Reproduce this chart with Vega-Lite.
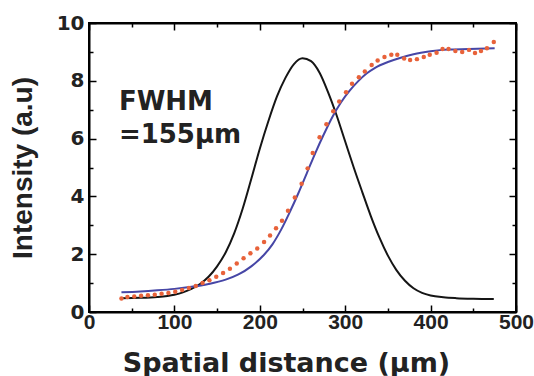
{
  "$schema": "https://vega.github.io/schema/vega-lite/v6.json",
  "width": 427,
  "height": 289,
  "autosize": "none",
  "padding": {"left": 89, "top": 23, "right": 18, "bottom": 64},
  "background": "white",
  "config": {
    "view": {"stroke": "black", "strokeWidth": 2},
    "font": "DejaVu Sans",
    "axis": {"labelFont": "Liberation Sans", "titleFont": "DejaVu Sans", "labelFontWeight": "bold", "titleFontWeight": "bold", "labelColor": "#222", "titleColor": "#222", "domainColor": "black", "domainWidth": 2, "tickColor": "black", "tickWidth": 1.5, "grid": false}
  },
  "datasets": {
    "curves": [
      {"x": 38, "y": 0.48, "series": "gauss"}, {"x": 60, "y": 0.49, "series": "gauss"}, {"x": 80, "y": 0.52, "series": "gauss"}, {"x": 100, "y": 0.6, "series": "gauss"}, {"x": 110, "y": 0.68, "series": "gauss"}, {"x": 120, "y": 0.8, "series": "gauss"}, {"x": 130, "y": 0.97, "series": "gauss"}, {"x": 140, "y": 1.22, "series": "gauss"}, {"x": 150, "y": 1.58, "series": "gauss"}, {"x": 160, "y": 2.06, "series": "gauss"}, {"x": 170, "y": 2.72, "series": "gauss"}, {"x": 180, "y": 3.58, "series": "gauss"}, {"x": 190, "y": 4.6, "series": "gauss"}, {"x": 200, "y": 5.65, "series": "gauss"}, {"x": 210, "y": 6.6, "series": "gauss"}, {"x": 220, "y": 7.45, "series": "gauss"}, {"x": 230, "y": 8.1, "series": "gauss"}, {"x": 240, "y": 8.58, "series": "gauss"}, {"x": 250, "y": 8.78, "series": "gauss"}, {"x": 260, "y": 8.68, "series": "gauss"}, {"x": 270, "y": 8.28, "series": "gauss"}, {"x": 280, "y": 7.6, "series": "gauss"}, {"x": 290, "y": 6.8, "series": "gauss"}, {"x": 300, "y": 5.9, "series": "gauss"}, {"x": 310, "y": 5.0, "series": "gauss"}, {"x": 320, "y": 4.15, "series": "gauss"}, {"x": 330, "y": 3.32, "series": "gauss"}, {"x": 340, "y": 2.58, "series": "gauss"}, {"x": 350, "y": 1.95, "series": "gauss"}, {"x": 360, "y": 1.45, "series": "gauss"}, {"x": 370, "y": 1.08, "series": "gauss"}, {"x": 380, "y": 0.82, "series": "gauss"}, {"x": 390, "y": 0.66, "series": "gauss"}, {"x": 400, "y": 0.57, "series": "gauss"}, {"x": 415, "y": 0.51, "series": "gauss"}, {"x": 430, "y": 0.48, "series": "gauss"}, {"x": 450, "y": 0.46, "series": "gauss"}, {"x": 474, "y": 0.45, "series": "gauss"},
      {"x": 38, "y": 0.68, "series": "fit"}, {"x": 60, "y": 0.71, "series": "fit"}, {"x": 80, "y": 0.75, "series": "fit"}, {"x": 100, "y": 0.8, "series": "fit"}, {"x": 120, "y": 0.87, "series": "fit"}, {"x": 140, "y": 0.97, "series": "fit"}, {"x": 160, "y": 1.12, "series": "fit"}, {"x": 175, "y": 1.3, "series": "fit"}, {"x": 190, "y": 1.58, "series": "fit"}, {"x": 205, "y": 1.98, "series": "fit"}, {"x": 215, "y": 2.35, "series": "fit"}, {"x": 225, "y": 2.85, "series": "fit"}, {"x": 235, "y": 3.45, "series": "fit"}, {"x": 245, "y": 4.1, "series": "fit"}, {"x": 255, "y": 4.8, "series": "fit"}, {"x": 265, "y": 5.5, "series": "fit"}, {"x": 275, "y": 6.15, "series": "fit"}, {"x": 285, "y": 6.75, "series": "fit"}, {"x": 295, "y": 7.25, "series": "fit"}, {"x": 305, "y": 7.65, "series": "fit"}, {"x": 315, "y": 7.98, "series": "fit"}, {"x": 325, "y": 8.25, "series": "fit"}, {"x": 335, "y": 8.45, "series": "fit"}, {"x": 350, "y": 8.65, "series": "fit"}, {"x": 365, "y": 8.8, "series": "fit"}, {"x": 380, "y": 8.92, "series": "fit"}, {"x": 400, "y": 9.02, "series": "fit"}, {"x": 420, "y": 9.08, "series": "fit"}, {"x": 445, "y": 9.1, "series": "fit"}, {"x": 475, "y": 9.13, "series": "fit"}
    ],
    "dots": [
      {"x": 38, "y": 0.47}, {"x": 45, "y": 0.52}, {"x": 53, "y": 0.54}, {"x": 61, "y": 0.56}, {"x": 69, "y": 0.58}, {"x": 77, "y": 0.6}, {"x": 85, "y": 0.63}, {"x": 93, "y": 0.66}, {"x": 101, "y": 0.7}, {"x": 109, "y": 0.76}, {"x": 117, "y": 0.83}, {"x": 125, "y": 0.9}, {"x": 133, "y": 1.0}, {"x": 141, "y": 1.1}, {"x": 149, "y": 1.22}, {"x": 157, "y": 1.35}, {"x": 165, "y": 1.5}, {"x": 173, "y": 1.68}, {"x": 181, "y": 1.86}, {"x": 189, "y": 2.03}, {"x": 197, "y": 2.2}, {"x": 205, "y": 2.42}, {"x": 212, "y": 2.65}, {"x": 219, "y": 2.9}, {"x": 226, "y": 3.16}, {"x": 233, "y": 3.5}, {"x": 241, "y": 3.96}, {"x": 249, "y": 4.44}, {"x": 256, "y": 4.97}, {"x": 262, "y": 5.5}, {"x": 270, "y": 6.05}, {"x": 278, "y": 6.5}, {"x": 286, "y": 6.95}, {"x": 293, "y": 7.28}, {"x": 301, "y": 7.6}, {"x": 308, "y": 7.9}, {"x": 316, "y": 8.12}, {"x": 323, "y": 8.32}, {"x": 331, "y": 8.55}, {"x": 338, "y": 8.7}, {"x": 346, "y": 8.82}, {"x": 354, "y": 8.9}, {"x": 361, "y": 8.9}, {"x": 369, "y": 8.77}, {"x": 376, "y": 8.72}, {"x": 384, "y": 8.75}, {"x": 392, "y": 8.82}, {"x": 399, "y": 8.9}, {"x": 407, "y": 8.97}, {"x": 414, "y": 9.1}, {"x": 421, "y": 9.1}, {"x": 429, "y": 9.03}, {"x": 437, "y": 9.0}, {"x": 445, "y": 9.07}, {"x": 452, "y": 8.96}, {"x": 459, "y": 9.03}, {"x": 466, "y": 9.13}, {"x": 474, "y": 9.34}
    ],
    "notes": [
      {"x": 35, "y": 7.0, "label": "FWHM"},
      {"x": 35, "y": 5.85, "label": "=155μm"}
    ],
    "frame": [
      {"x": 0, "y": 0}, {"x": 500, "y": 10}
    ]
  },
  "layer": [
    {
      "encoding": {
        "x": {"field": "x", "type": "quantitative", "scale": {"domain": [0, 500], "nice": false, "zero": false},
          "axis": {"orient": "bottom", "title": "Spatial distance (μm)", "titleFontSize": 27, "titlePadding": 15, "titleX": 197, "titleAlign": "center", "labelFontSize": 21, "labelPadding": 6, "labelFlush": false, "labelOverlap": false,
            "values": [0, 50, 100, 150, 200, 250, 300, 350, 400, 450, 500],
            "labelExpr": "datum.value % 100 === 0 ? datum.label : ''",
            "tickSize": {"condition": {"test": "datum.value % 100 === 0", "value": -7}, "value": -4}}},
        "y": {"field": "y", "type": "quantitative", "scale": {"domain": [0, 10], "nice": false, "zero": false},
          "axis": {"orient": "left", "title": "Intensity (a.u)", "titleFont": "Liberation Sans", "titleFontSize": 28, "titlePadding": 19, "labelFont": "DejaVu Sans", "labelFontSize": 20, "labelPadding": 12, "labelFlush": false, "labelOverlap": false,
            "values": [0, 1, 2, 3, 4, 5, 6, 7, 8, 9, 10],
            "labelExpr": "datum.value % 2 === 0 ? datum.label : ''",
            "tickSize": {"condition": {"test": "datum.value % 2 === 0", "value": -7}, "value": -4}}}
      },
      "layer": [
        {
          "data": {"name": "curves"},
          "mark": {"type": "line", "strokeWidth": 2, "interpolate": "monotone"},
          "encoding": {
            "detail": {"field": "series"},
            "color": {"field": "series", "type": "nominal", "scale": {"domain": ["gauss", "fit"], "range": ["#151515", "#4646a6"]}, "legend": null}
          }
        },
        {
          "data": {"name": "dots"},
          "mark": {"type": "point", "shape": "circle", "filled": true, "size": 20, "color": "#e8623a", "opacity": 1}
        },
        {
          "data": {"name": "notes"},
          "mark": {"type": "text", "align": "left", "baseline": "alphabetic", "font": "DejaVu Sans", "fontWeight": "bold", "fontSize": 26, "color": "#222"},
          "encoding": {"text": {"field": "label"}}
        }
      ]
    },
    {
      "data": {"name": "frame"},
      "mark": {"type": "point", "opacity": 0},
      "encoding": {
        "x": {"field": "x", "type": "quantitative", "scale": {"domain": [0, 500], "nice": false, "zero": false},
          "axis": {"orient": "top", "title": null, "labels": false, "values": [0, 50, 100, 150, 200, 250, 300, 350, 400, 450, 500],
            "tickSize": {"condition": {"test": "datum.value % 100 === 0", "value": -7}, "value": -4}}},
        "y": {"field": "y", "type": "quantitative", "scale": {"domain": [0, 10], "nice": false, "zero": false},
          "axis": {"orient": "right", "title": null, "labels": false, "values": [0, 1, 2, 3, 4, 5, 6, 7, 8, 9, 10],
            "tickSize": {"condition": {"test": "datum.value % 2 === 0", "value": -7}, "value": -4}}}
      }
    }
  ],
  "resolve": {"scale": {"x": "independent", "y": "independent"}}
}
